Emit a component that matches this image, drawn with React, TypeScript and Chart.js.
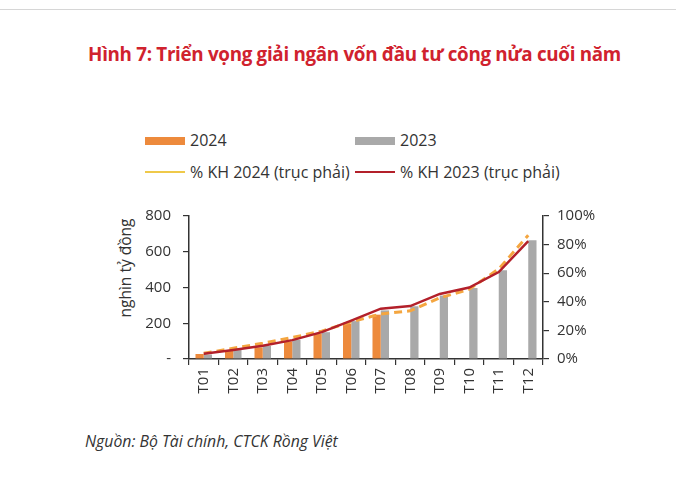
import React, { useEffect, useRef } from "react";
import { Chart, registerables } from "chart.js";

Chart.register(...registerables);

const months = ["T01", "T02", "T03", "T04", "T05", "T06", "T07", "T08", "T09", "T10", "T11", "T12"];
const disb2024 = [28, 45, 65, 98, 142, 196, 248, null, null, null, null, null];
const disb2023 = [25, 50, 73, 108, 150, 212, 272, 295, 355, 397, 497, 665];
const pct2024 = [4, 7.5, 11, 15, 19.5, 26, 31.5, 33.7, 42.7, 48.8, 63, 86.5];
const pct2023 = [3.6, 6.3, 9.2, 13.2, 18.8, 26.8, 35.2, 37, 45.5, 50, 60.8, 82.5];
const leftTicks = [0, 200, 400, 600, 800];
const rightTicks = [0, 20, 40, 60, 80, 100];

const FONT = "'Open Sans', 'Noto Sans', sans-serif";
const TXT = "#333333";

export default function App() {
  const ref = useRef<HTMLCanvasElement | null>(null);

  useEffect(() => {
    if (!ref.current) return;
    const chart = new Chart(ref.current, {
      type: "bar",
      data: {
        labels: months,
        datasets: [
          {
            type: "line",
            label: "% KH 2024 (trục phải)",
            data: pct2024,
            yAxisID: "y1",
            borderColor: "#F4A640",
            borderWidth: 3,
            borderDash: [8, 5],
            pointRadius: 0,
            tension: 0,
            order: 1,
          },
          {
            type: "line",
            label: "% KH 2023 (trục phải)",
            data: pct2023,
            yAxisID: "y1",
            borderColor: "#B3202A",
            borderWidth: 2.5,
            pointRadius: 0,
            tension: 0,
            order: 0,
          },
          {
            label: "2024",
            data: disb2024,
            yAxisID: "y",
            backgroundColor: "#ED8A3C",
            categoryPercentage: 0.56,
            barPercentage: 1,
            order: 3,
          },
          {
            label: "2023",
            data: disb2023,
            yAxisID: "y",
            backgroundColor: "#A9A9A9",
            categoryPercentage: 0.56,
            barPercentage: 1,
            order: 3,
          },
        ] as any,
      },
      options: {
        responsive: false,
        animation: false,
        layout: { padding: { top: 16, left: 0, right: 0, bottom: 0 }, autoPadding: false } as any,
        plugins: {
          legend: { display: false },
          title: { display: false },
          tooltip: { enabled: false },
        },
        scales: {
          x: {
            grid: { display: true, drawOnChartArea: false, drawTicks: true, tickLength: 6, color: TXT, lineWidth: 1.2, offset: true },
            border: { display: true, color: TXT, width: 1.5 },
            ticks: { color: TXT, font: { family: FONT, size: 15 }, minRotation: 90, maxRotation: 90, padding: 3 },
            afterFit: (s: any) => { s.height = 51; },
          },
          y: {
            position: "left",
            min: 0,
            max: 800,
            afterBuildTicks: (s: any) => { s.ticks = leftTicks.map((v) => ({ value: v })); },
            grid: { drawOnChartArea: false, drawTicks: true, tickLength: 6, color: TXT, lineWidth: 1.2 },
            border: { display: true, color: TXT, width: 1.5 },
            ticks: {
              color: TXT,
              font: { family: FONT, size: 15 },
              padding: 12,
              callback: (v: any) => (Number(v) === 0 ? "-" : String(v)),
            },
            afterFit: (s: any) => { s.width = 94; },
          },
          y1: {
            position: "right",
            min: 0,
            max: 100,
            afterBuildTicks: (s: any) => { s.ticks = rightTicks.map((v) => ({ value: v })); },
            grid: { drawOnChartArea: false, drawTicks: true, tickLength: 6, color: TXT, lineWidth: 1.2 },
            border: { display: true, color: TXT, width: 1.5 },
            ticks: {
              color: TXT,
              font: { family: FONT, size: 15 },
              padding: 8,
              callback: (v: any) => `${v}%`,
            },
            afterFit: (s: any) => { s.width = 82; },
          },
        },
      } as any,
    });
    return () => chart.destroy();
  }, []);

  const legendText: React.CSSProperties = {
    position: "absolute",
    fontFamily: FONT,
    fontSize: 16,
    color: TXT,
    lineHeight: "18px",
    whiteSpace: "nowrap",
  };

  return (
    <div style={{ position: "fixed", left: 0, top: 0, width: 676, height: 483, background: "#fff", overflow: "hidden" }}>
      <div style={{ position: "absolute", left: 0, top: 9, width: 676, height: 1, background: "#d6d6d6" }} />
      <div
        style={{
          position: "absolute",
          left: 87,
          width: 535,
          top: 41,
          textAlign: "center",
          fontFamily: FONT,
          fontWeight: 700,
          fontSize: 18.8,
          color: "#D0222E",
          letterSpacing: -0.3,
          whiteSpace: "nowrap",
        }}
      >
        Hình 7: Triển vọng giải ngân vốn đầu tư công nửa cuối năm
      </div>

      <div style={{ position: "absolute", left: 145, top: 137, width: 40, height: 8, background: "#ED8A3C" }} />
      <div style={{ ...legendText, left: 190, top: 131 }}>2024</div>
      <div style={{ position: "absolute", left: 355, top: 137, width: 40, height: 8, background: "#A9A9A9" }} />
      <div style={{ ...legendText, left: 400, top: 131 }}>2023</div>
      <div style={{ position: "absolute", left: 145, top: 171, width: 40, height: 2, background: "#EFC94A" }} />
      <div style={{ ...legendText, left: 190, top: 163 }}>% KH 2024 (trục phải)</div>
      <div style={{ position: "absolute", left: 355, top: 171, width: 40, height: 2, background: "#B3202A" }} />
      <div style={{ ...legendText, left: 400, top: 163 }}>% KH 2023 (trục phải)</div>

      <div
        style={{
          position: "absolute",
          left: 125,
          top: 268,
          transform: "translate(-50%, -50%) rotate(-90deg)",
          fontFamily: FONT,
          fontSize: 15.5,
          color: TXT,
          whiteSpace: "nowrap",
        }}
      >
        nghìn tỷ đồng
      </div>

      <div style={{ position: "absolute", left: 95, top: 195, width: 530, height: 215 }}>
        <canvas ref={ref} width={530} height={215} style={{ display: "block" }} />
      </div>

      <div
        style={{
          position: "absolute",
          left: 85,
          top: 430,
          fontFamily: FONT,
          fontStyle: "italic",
          fontSize: 15.8,
          color: TXT,
          whiteSpace: "nowrap",
        }}
      >
        Nguồn: Bộ Tài chính, CTCK Rồng Việt
      </div>
    </div>
  );
}
